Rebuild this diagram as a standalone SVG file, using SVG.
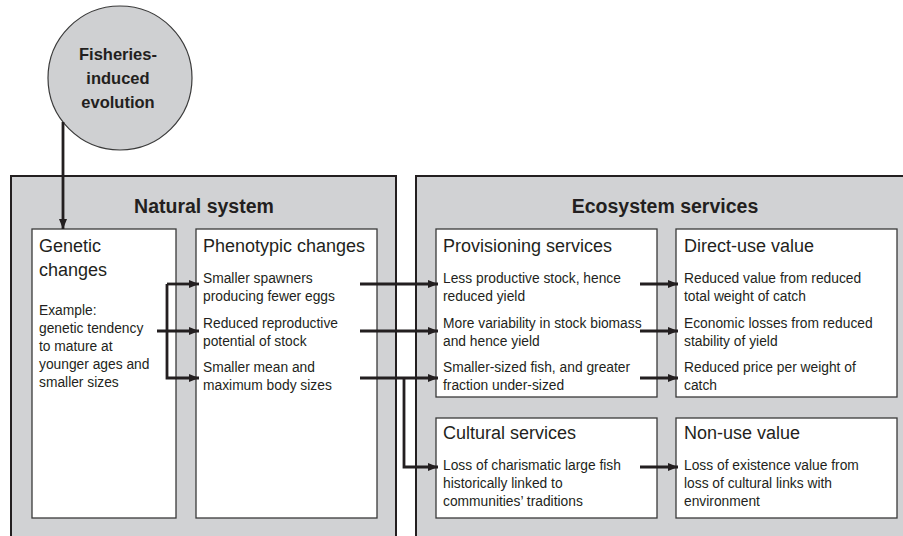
<svg xmlns="http://www.w3.org/2000/svg" width="903" height="536" viewBox="0 0 903 536">
<style>
.outer{fill:#d1d2d4;stroke:#231f20;stroke-width:2}
.inner{fill:#ffffff;stroke:#3a3a3a;stroke-width:1.3}
.t{font-family:"Liberation Sans",Arial,sans-serif;fill:#231f20}
.title{font-size:19.5px;font-weight:bold;text-anchor:middle}
.head{font-size:18px}
.item{font-size:13.8px}
.circ{font-size:16.5px;font-weight:bold;text-anchor:middle}
.conn{fill:none;stroke:#231f20;stroke-width:2.8;stroke-linejoin:miter}
</style>
<defs>
<marker id="ah" viewBox="0 0 10 8" refX="10" refY="4" markerWidth="10" markerHeight="8" markerUnits="userSpaceOnUse" orient="auto">
<path d="M0,0 L10,4 L0,8 z" fill="#231f20"/>
</marker>
</defs>
<rect width="903" height="536" fill="#ffffff"/>

<g id="fisheries-evolution">
<circle cx="120" cy="78" r="72" fill="#cfd0d2" stroke="#3a3a3a" stroke-width="1.2"/>
<text class="t circ" x="118" y="60">Fisheries-</text>
<text class="t circ" x="118" y="84">induced</text>
<text class="t circ" x="118" y="108">evolution</text>
</g>

<g id="natural-system">
<rect class="outer" x="11" y="176" width="385" height="370"/>
<text class="t title" x="204" y="213">Natural system</text>
</g>

<g id="ecosystem-services">
<rect class="outer" x="416" y="176" width="500" height="370"/>
<text class="t title" x="665" y="213">Ecosystem services</text>
</g>

<g id="genetic-changes">
<rect class="inner" x="32" y="229" width="144" height="289"/>
<text class="t head" x="39" y="252">Genetic</text>
<text class="t head" x="39" y="276">changes</text>
<text class="t item" x="39" y="315">Example:</text>
<text class="t item" x="39" y="333">genetic tendency</text>
<text class="t item" x="39" y="351">to mature at</text>
<text class="t item" x="39" y="369">younger ages and</text>
<text class="t item" x="39" y="387">smaller sizes</text>
</g>

<g id="phenotypic-changes">
<rect class="inner" x="196" y="229" width="181" height="289"/>
<text class="t head" x="203" y="252">Phenotypic changes</text>
<text class="t item" x="203" y="283">Smaller spawners</text>
<text class="t item" x="203" y="301">producing fewer eggs</text>
<text class="t item" x="203" y="328">Reduced reproductive</text>
<text class="t item" x="203" y="346">potential of stock</text>
<text class="t item" x="203" y="372">Smaller mean and</text>
<text class="t item" x="203" y="390">maximum body sizes</text>
</g>

<g id="provisioning-services">
<rect class="inner" x="436" y="229" width="221" height="168"/>
<text class="t head" x="443" y="252">Provisioning services</text>
<text class="t item" x="443" y="283">Less productive stock, hence</text>
<text class="t item" x="443" y="301">reduced yield</text>
<text class="t item" x="443" y="328">More variability in stock biomass</text>
<text class="t item" x="443" y="346">and hence yield</text>
<text class="t item" x="443" y="372">Smaller-sized fish, and greater</text>
<text class="t item" x="443" y="390">fraction under-sized</text>
</g>

<g id="direct-use-value">
<rect class="inner" x="676" y="229" width="221" height="168"/>
<text class="t head" x="684" y="252">Direct-use value</text>
<text class="t item" x="684" y="283">Reduced value from reduced</text>
<text class="t item" x="684" y="301">total weight of catch</text>
<text class="t item" x="684" y="328">Economic losses from reduced</text>
<text class="t item" x="684" y="346">stability of yield</text>
<text class="t item" x="684" y="372">Reduced price per weight of</text>
<text class="t item" x="684" y="390">catch</text>
</g>

<g id="cultural-services">
<rect class="inner" x="436" y="418" width="221" height="100"/>
<text class="t head" x="443" y="439">Cultural services</text>
<text class="t item" x="443" y="470">Loss of charismatic large fish</text>
<text class="t item" x="443" y="488">historically linked to</text>
<text class="t item" x="443" y="506">communities’ traditions</text>
</g>

<g id="non-use-value">
<rect class="inner" x="676" y="418" width="221" height="100"/>
<text class="t head" x="684" y="439">Non-use value</text>
<text class="t item" x="684" y="470">Loss of existence value from</text>
<text class="t item" x="684" y="488">loss of cultural links with</text>
<text class="t item" x="684" y="506">environment</text>
</g>

<g id="connectors">
<path class="conn" d="M63,122 V229" marker-end="url(#ah)"/>
<path class="conn" d="M157,331 H199" marker-end="url(#ah)"/>
<path class="conn" d="M167,284 H199" marker-end="url(#ah)"/>
<path class="conn" d="M167,284 V378 H199" marker-end="url(#ah)"/>
<path class="conn" d="M360,284 H438" marker-end="url(#ah)"/>
<path class="conn" d="M360,331 H438" marker-end="url(#ah)"/>
<path class="conn" d="M360,378 H438" marker-end="url(#ah)"/>
<path class="conn" d="M404,378 V467 H438" marker-end="url(#ah)"/>
<path class="conn" d="M640,284 H678" marker-end="url(#ah)"/>
<path class="conn" d="M640,331 H678" marker-end="url(#ah)"/>
<path class="conn" d="M640,378 H678" marker-end="url(#ah)"/>
<path class="conn" d="M640,467 H678" marker-end="url(#ah)"/>
</g>
</svg>
